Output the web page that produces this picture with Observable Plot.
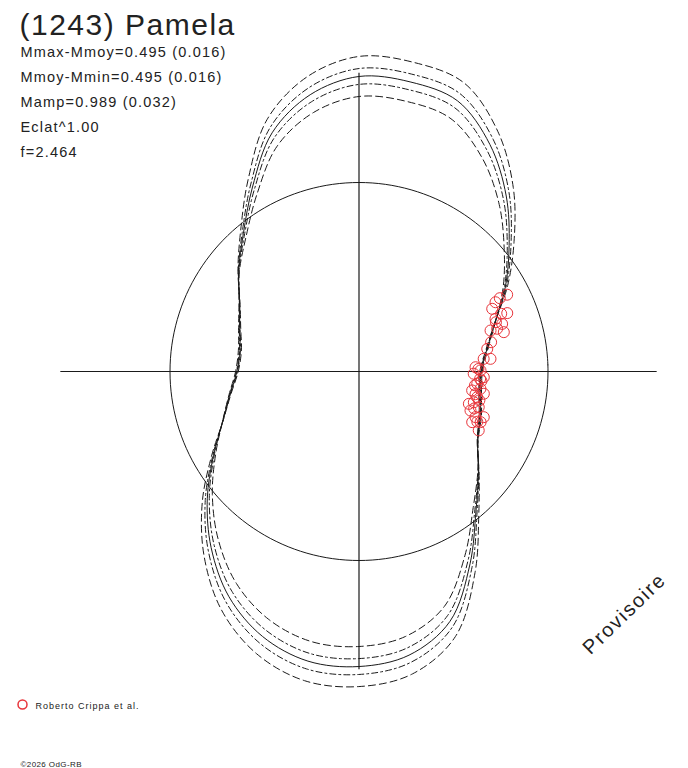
<!DOCTYPE html>
<html>
<head>
<meta charset="utf-8">
<script src="https://cdn.jsdelivr.net/npm/d3@7"></script>
<script src="https://cdn.jsdelivr.net/npm/@observablehq/plot@0.6"></script>
<style>
  html, body { margin: 0; padding: 0; background: #fff; }
  #chart { width: 688px; height: 768px; }
</style>
</head>
<body>
<div id="chart"></div>
<script>
// ---- data ----
const title = "(1243) Pamela";
const statLines = ["Mmax-Mmoy=0.495 (0.016)", "Mmoy-Mmin=0.495 (0.016)", "Mamp=0.989 (0.032)", "Eclat^1.00", "f=2.464"];
const mmaxMinusMmoy = 0.495;
const legendLabel = "Roberto Crippa et al.";
const copyright = "©2026 OdG-RB";
const watermark = "Provisoire";

// rotational phase angle (deg, counter-clockwise from east)
const angles = [0,10,20,30,40,50,60,70,80,90,100,110,120,130,140,150,160,170,180,190,200,210,220,230,240,250,260,270,280,290,300,310,320,330,340,350];
// relative brightness (Eclat, mean = 1) of the fitted light curve
const eclat = [0.646,0.688,0.767,0.894,1.037,1.212,1.386,1.524,1.556,1.561,1.487,1.344,1.127,0.952,0.831,0.730,0.672,0.640,0.646,0.693,0.767,0.889,1.048,1.217,1.376,1.492,1.556,1.561,1.524,1.407,1.175,0.963,0.825,0.725,0.683,0.651];
// envelope half-widths (dashed and dash-dot curves)
const spreadDash = [-0.007,-0.005,-0.001,0.014,0.034,0.058,0.082,0.101,0.105,0.106,0.096,0.076,0.046,0.022,0.005,-0.003,-0.006,-0.008,-0.007,-0.005,-0.001,0.013,0.035,0.058,0.080,0.096,0.105,0.106,0.101,0.085,0.053,0.023,0.004,-0.003,-0.006,-0.007];
const spreadDot = [-0.003,-0.002,-0.001,0.006,0.013,0.023,0.033,0.040,0.042,0.042,0.038,0.030,0.018,0.009,0.002,-0.001,-0.002,-0.003,-0.003,-0.002,-0.001,0.005,0.014,0.023,0.032,0.039,0.042,0.042,0.040,0.034,0.021,0.009,0.002,-0.001,-0.002,-0.003];

// observations (Roberto Crippa et al.)
const obsAngle = [27.4,27.5,26.9,25.2,21.5,22.1,21.1,18.4,17.3,17.2,15.2,10.0,5.5,5.8,2.1,0.5,-1.1,-2.6,-5.9,-8.1,-9.5,-10.1,-12.3,-19.3,-16.6,-20.1,-21.4,-24.1,-22.6,-26.2,-16.4,-15.0,-3.5,-6.8,-13.5,-17.8,1.2,-4.4,-11.0,-23.0,12.5,19.8];
const obsEclat = [0.883,0.840,0.810,0.779,0.843,0.812,0.774,0.798,0.729,0.765,0.794,0.689,0.699,0.663,0.617,0.643,0.607,0.661,0.629,0.649,0.607,0.671,0.640,0.625,0.661,0.703,0.662,0.656,0.697,0.706,0.606,0.629,0.642,0.618,0.655,0.640,0.632,0.650,0.628,0.680,0.716,0.770];

// ---- build tables ----
const rad = a => a * Math.PI / 180;
const px = d => d.e * Math.cos(rad(d.a));
const py = d => d.e * Math.sin(rad(d.a));
const curveRows = (sign, spread) => angles.map((a, i) => ({a, e: eclat[i] + sign * (spread ? spread[i] : 0)}));
const solid = curveRows(0, null);
const outerDash = curveRows(1, spreadDash);
const innerDash = curveRows(-1, spreadDash);
const outerDot = curveRows(1, spreadDot);
const innerDot = curveRows(-1, spreadDot);
const meanCircle = d3.range(0, 360, 2).map(a => ({a, e: 1}));
const obs = obsAngle.map((a, i) => ({a, e: obsEclat[i]}));
const axisR = Math.pow(10, 0.4 * mmaxMinusMmoy);

const W = 688, H = 768, K = 189, cx = 358.5, cy = 371;
const ink = "#1a1a1a";
const red = "#e8343a";
const font = "Liberation Sans, Arial, sans-serif";

const lineOpts = {x: px, y: py, curve: "catmull-rom-closed", stroke: ink, strokeWidth: 1};
const txt = (s, dx, dy, size, cls, extra = {}) =>
  Plot.text([s], {text: d => d, frameAnchor: "top-left", dx, dy, textAnchor: "start", lineAnchor: "bottom", fontSize: size, fill: "#222", className: cls, ...extra});

const chart = Plot.plot({
  width: W, height: H,
  margin: 0,
  x: {domain: [-cx / K, (W - cx) / K], range: [0, W], axis: null},
  y: {domain: [-(H - cy) / K, cy / K], range: [H, 0], axis: null},
  style: {background: "#fff", fontFamily: font},
  marks: [
    Plot.line(meanCircle, {...lineOpts, strokeWidth: 1}),
    Plot.ruleY([0], {x1: -axisR, x2: axisR, stroke: ink, strokeWidth: 1.2}),
    Plot.ruleX([0], {y1: -axisR, y2: axisR, stroke: ink, strokeWidth: 1.2}),
    Plot.line(outerDash, {...lineOpts, strokeDasharray: "7,4"}),
    Plot.line(innerDash, {...lineOpts, strokeDasharray: "7,4"}),
    Plot.line(outerDot, {...lineOpts, strokeDasharray: "6,3,2,3"}),
    Plot.line(innerDot, {...lineOpts, strokeDasharray: "6,3,2,3"}),
    Plot.line(solid, lineOpts),
    Plot.dot(obs, {x: px, y: py, r: 5.5, stroke: red, strokeWidth: 1, fill: "none"}),
    // texts
    txt(title, 19, 34, 30, "t-title"),
    ...statLines.map((s, i) => txt(s, 20, 56 + i * 25, 14.5, "t-stats")),
    Plot.dot([legendLabel], {frameAnchor: "top-left", dx: 22, dy: 704, r: 4.5, stroke: red, fill: "none"}),
    txt(legendLabel, 35, 708, 9, "t-legend"),
    txt(copyright, 20, 766, 8, "t-copy"),
    txt(watermark, 590, 655, 20, "t-wm", {rotate: -44})
  ]
});

// letter spacing of the texts
const svg = d3.select(chart);
svg.selectAll(".t-title text").attr("letter-spacing", 1.5);
svg.selectAll(".t-stats text").attr("letter-spacing", 1.2);
svg.selectAll(".t-legend text").attr("letter-spacing", 1.0);
svg.selectAll(".t-copy text").attr("letter-spacing", 0.4);
svg.selectAll(".t-wm text").attr("letter-spacing", 1.8);

document.getElementById("chart").appendChild(chart);
</script>
</body>
</html>
